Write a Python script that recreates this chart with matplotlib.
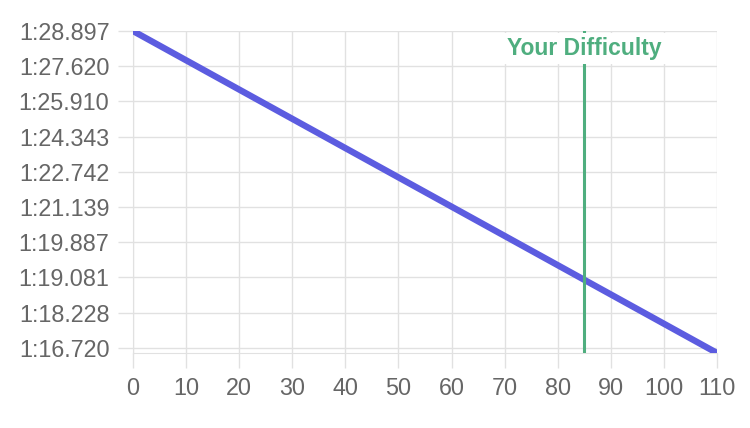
import matplotlib.pyplot as plt
import numpy as np

# difficulty vs lap time (y axis uses evenly spaced lap-time labels)
lap_labels = ["1:16.720", "1:18.228", "1:19.081", "1:19.887", "1:21.139",
              "1:22.742", "1:24.343", "1:25.910", "1:27.620", "1:28.897"]
difficulty = [0, 110]
lap_level = [9, -0.15]   # position on the label scale
your_difficulty = 85

plt.rcParams['font.family'] = ['Liberation Sans', 'DejaVu Sans']

fig = plt.figure(figsize=(7.5, 4.28), dpi=100)
ax = fig.add_axes([133 / 750, 1 - 353 / 428, 584 / 750, 322 / 428])

grid_col = '#e1e1e1'
text_col = '#666666'

ax.plot(difficulty, lap_level, color='#5c5ce0', lw=4.6, solid_capstyle='butt', zorder=3)

ax.axvline(your_difficulty, color='#4fae7f', lw=2.2, zorder=4)
ax.text(your_difficulty, 8.5, "Your Difficulty", color='#4fae7f', fontsize=16.5,
        fontweight='bold', ha='center', va='center', zorder=5,
        bbox=dict(facecolor='white', edgecolor='none', pad=3))

ax.set_xlim(0, 110)
ax.set_ylim(-0.15, 9)
ax.set_xticks(np.arange(0, 111, 10))
ax.set_yticks(range(len(lap_labels)))
ax.set_yticklabels(lap_labels)

ax.grid(True, color=grid_col, lw=1)
ax.set_axisbelow(True)
for s in ax.spines.values():
    s.set_visible(False)
ax.spines['left'].set_visible(True)
ax.spines['bottom'].set_visible(True)
ax.spines['left'].set_color(grid_col)
ax.spines['bottom'].set_color(grid_col)

ax.tick_params(axis='both', colors=grid_col, labelcolor=text_col, labelsize=16.8,
               length=11, width=1)
ax.tick_params(axis='y', pad=6)
ax.tick_params(axis='x', pad=6)

fig.savefig('out.png', dpi=100)
